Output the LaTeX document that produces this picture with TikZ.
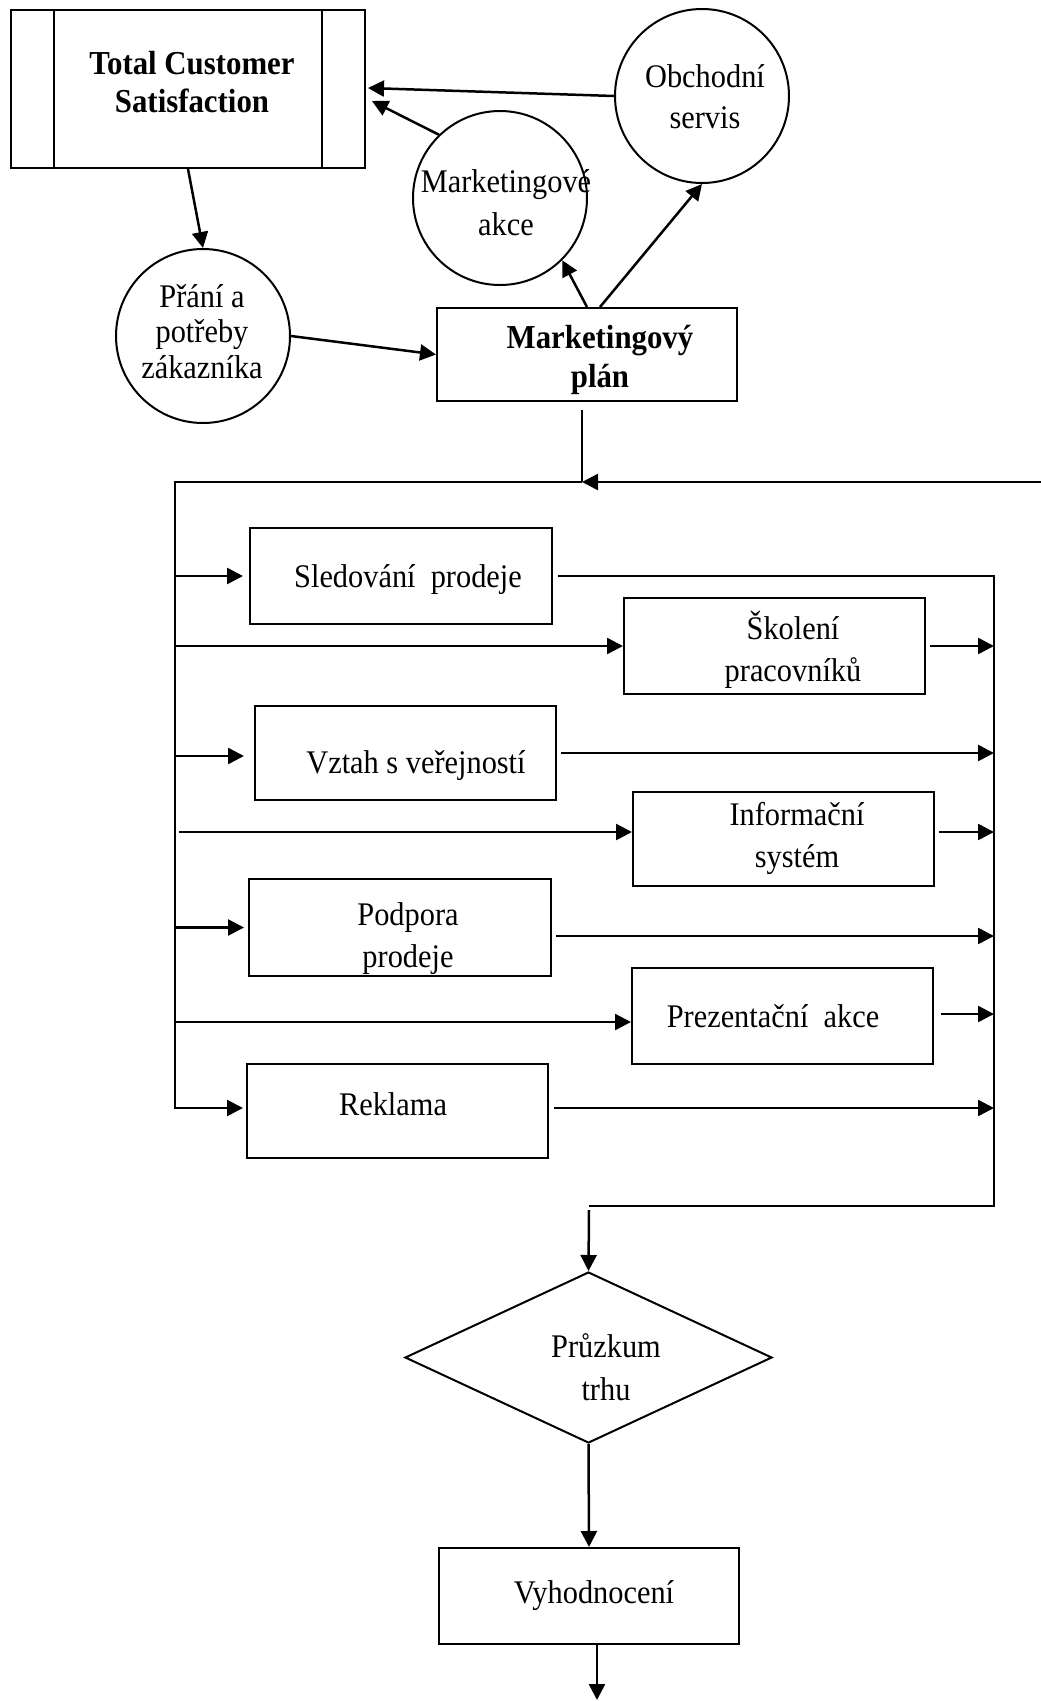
\documentclass[tikz,border=0pt]{standalone}
\usepackage{fontspec}
\setmainfont{Liberation Serif}[FakeStretch=0.92]
\usetikzlibrary{arrows.meta,shapes.geometric}
\begin{document}
\begin{tikzpicture}[x=1pt,y=-1pt,
  outl/.style={draw, line width=2pt, inner sep=0pt},
  pbox/.style={outl, rectangle, minimum width=301pt, minimum height=95pt},
  ring/.style={outl, circle, minimum size=174pt},
  lbl/.style={font=\fontsize{33}{42}\selectfont, align=center, inner sep=0pt, anchor=base},
  blbl/.style={font=\fontsize{33.5}{38}\selectfont\bfseries, align=center, inner sep=0pt, anchor=base},
  conn/.style={line width=2.5pt},
  arr/.style={conn, -{Triangle[length=16pt,width=16pt]}},
]
\useasboundingbox (0,0) rectangle (1041,1701);
\fill[white] (0,0) rectangle (1041,1701);

% --- top part: satisfaction, needs, plan ---
% (multi-line labels are anchored on the baseline of their last line)
\node[outl, rectangle, minimum width=354pt, minimum height=158pt] (tcs) at (188,89) {};
\draw[line width=2pt] ([xshift=44pt]tcs.north west) -- ([xshift=44pt]tcs.south west);
\draw[line width=2pt] ([xshift=-44pt]tcs.north east) -- ([xshift=-44pt]tcs.south east);
\node[blbl] (tcs-t) at (192,112) {Total Customer\\Satisfaction};

\node[ring] (obch) at (702,96) {};
\node[lbl, font=\fontsize{33}{41}\selectfont] (obch-t) at (705,128) {Obchodní\\servis};

\node[ring] (mkt) at (500,198) {};
\node[lbl, font=\fontsize{33}{43}\selectfont] (mkt-t) at (506,235) {Marketingové\\akce};

\node[ring] (prani) at (203,336) {};
\node[lbl, font=\fontsize{33}{35.5}\selectfont] (prani-t) at (202,378) {Přání a\\potřeby\\zákazníka};

\node[pbox, minimum width=300pt, minimum height=93pt] (mp) at (587,354.5) {};
\node[blbl, font=\fontsize{33.5}{39}\selectfont\bfseries] (mp-t) at (600,387) {Marketingový\\plán};

% --- activities ---
\node[pbox, minimum width=302pt, minimum height=96pt] (sled) at (401,576) {};
\node[lbl] (sled-t) at (408,587) {Sledování\ \ prodeje};

\node[pbox, minimum height=96pt] (skol) at (774.5,646) {};
\node[lbl] (skol-t) at (793,681) {Školení\\pracovníků};

\node[pbox, minimum height=94pt] (vztah) at (405.5,753) {};
\node[lbl] (vztah-t) at (416,773) {Vztah s veřejností};

\node[pbox, minimum height=94pt] (info) at (783.5,839) {};
\node[lbl] (info-t) at (797,867) {Informační\\systém};

\node[pbox, minimum width=302pt, minimum height=97pt] (podp) at (400,927.5) {};
\node[lbl] (podp-t) at (408,967) {Podpora\\prodeje};

\node[pbox, minimum height=96pt] (prez) at (782.5,1016) {};
\node[lbl] (prez-t) at (773,1027) {Prezentační\ \ akce};

\node[pbox, minimum height=94pt] (rekl) at (397.5,1111) {};
\node[lbl] (rekl-t) at (393,1115) {Reklama};

% --- evaluation ---
\node[outl, diamond, minimum width=367pt, minimum height=171pt] (diam) at (588.5,1357.5) {};
\node[lbl, font=\fontsize{33}{43}\selectfont] (diam-t) at (606,1400) {Průzkum\\trhu};

\node[pbox, minimum width=300pt, minimum height=96pt] (vyh) at (589,1596) {};
\node[lbl] (vyh-t) at (594,1603) {Vyhodnocení};

% --- bus points ---
\coordinate (fbTop) at (582,410);
\coordinate (fbJoin) at (582,482);
\coordinate (busL) at (175,482);
\coordinate (edgeR) at (1041,482);
\coordinate (busR) at (994,576);
\coordinate (busRB) at (994,1206);
\coordinate (joinB) at (589,1206);
\coordinate (joinC) at (589,1210);
\coordinate (endPt) at (597,1700);
\path (tcs.east) ++(6,12) coordinate (tcsIn2);
\path (tcs.east) ++(2,-1) coordinate (tcsIn1);
\path (vztah.west) ++(0,3) coordinate (vztahIn);
\path (info.west) ++(0,-7) coordinate (infoIn);
\path (info.east) ++(0,-7) coordinate (infoOut);
\path (podp.east) ++(0,8.5) coordinate (podpOut);
\path (prez.west) ++(0,6) coordinate (prezIn);
\path (prez.east) ++(0,-2) coordinate (prezOut);
\path (rekl.west) ++(0,-3) coordinate (reklIn);
\path (rekl.east) ++(0,-3) coordinate (reklOut);

% --- top connectors ---
\draw[arr] (tcs.south) -- (prani.north);
\draw[arr] (prani.east) -- (mp.west);
\draw[arr] (mp.north) -- (mkt.-45);
\draw[arr] ([xshift=13pt]mp.north) -- (obch.south);
\draw[arr] (obch.west) -- (tcsIn1);
\draw[arr] (mkt.134) -- (tcsIn2);

% --- feedback loop and distribution bus ---
\draw[conn] (fbTop) -- (fbJoin);
\draw[arr] (edgeR) -- (fbJoin);
\draw[arr, shorten >=3pt] (fbJoin) -- (busL) |- (reklIn);
\draw[arr, shorten >=6pt] (busL |- sled.west) -- (sled.west);
\draw[arr] (busL |- skol.west) -- (skol.west);
\draw[arr, shorten >=10pt] (busL |- vztahIn) -- (vztahIn);
\draw[arr] ([xshift=4pt]busL |- infoIn) -- (infoIn);
\draw[arr, shorten >=4pt] (busL |- podp.west) -- (podp.west);
\draw[arr] (busL |- prezIn) -- (prezIn);

% --- collecting bus ---
\draw[conn, shorten <=5pt] (sled.east) -- (busR) -- (busRB) -- (joinB);
\draw[arr, shorten <=4pt] (skol.east) -- (skol.east -| busR);
\draw[arr, shorten <=4pt] (vztah.east) -- (vztah.east -| busR);
\draw[arr, shorten <=4pt] (infoOut) -- (infoOut -| busR);
\draw[arr, shorten <=4pt] (podpOut) -- (podpOut -| busR);
\draw[arr, shorten <=7pt] (prezOut) -- (prezOut -| busR);
\draw[arr, shorten <=5pt] (reklOut) -- (reklOut -| busR);

% --- evaluation chain ---
\draw[arr] (joinC) -- (diam.north);
\draw[arr] (diam.south) -- (vyh.north);
\draw[arr] (vyh.south -| endPt) -- (endPt);
\end{tikzpicture}
\end{document}
